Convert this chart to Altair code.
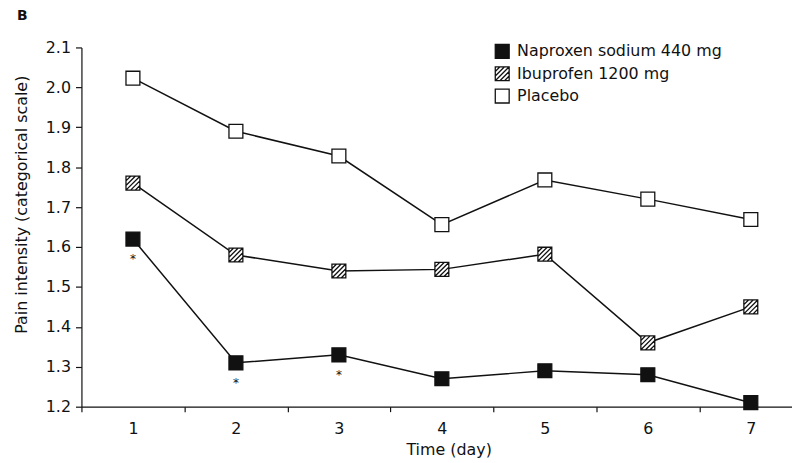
import altair as alt
import pandas as pd

days = [1, 2, 3, 4, 5, 6, 7]
drugs = ["Naproxen sodium 440 mg", "Ibuprofen 1200 mg", "Placebo"]
naproxen = [1.62, 1.31, 1.33, 1.27, 1.29, 1.28, 1.21]
ibuprofen = [1.76, 1.58, 1.54, 1.544, 1.582, 1.36, 1.45]
placebo = [2.023, 1.89, 1.828, 1.656, 1.768, 1.72, 1.669]
sig_days = [1, 2, 3]  # days with asterisk (naproxen)
y_ticks = [1.2, 1.3, 1.4, 1.5, 1.6, 1.7, 1.8, 1.9, 2.0, 2.1]
x_ticks = [0.5, 1, 1.5, 2, 2.5, 3, 3.5, 4, 4.5, 5, 5.5, 6, 6.5, 7]

FONT = "DejaVu Sans"
INK = "#111"

rows = []
for name, vals in zip(drugs, [naproxen, ibuprofen, placebo]):
    for d, v in zip(days, vals):
        rows.append({"day": d, "drug": name, "value": v})
df = pd.DataFrame(rows)
sig = df[(df["drug"] == drugs[0]) & (df["day"].isin(sig_days))].assign(mark="*")

hatch = ("M-1,-1H1V1H-1Z M-1,-0.33L-0.33,-1 M-1,0.33L0.33,-1 M-1,1L1,-1 "
         "M-0.33,1L1,-0.33 M0.33,1L1,0.33")

x_enc = alt.X(
    "day:Q",
    scale=alt.Scale(domain=[0.5, 7.4], nice=False, zero=False),
    axis=alt.Axis(
        values=x_ticks,
        labelExpr="datum.value % 1 === 0 ? format(datum.value, 'd') : ''",
        tickOpacity={"condition": {"test": "datum.value % 1 === 0", "value": 0}, "value": 1},
        tickSize=5, labelPadding=9, labelOverlap=False, labelFlush=False,
        title="Time (day)", titleX=370, titleY=43, titleAlign="center",
        titleBaseline="middle", grid=False,
    ),
)
y_enc = alt.Y(
    "value:Q",
    scale=alt.Scale(domain=[1.2, 2.1], nice=False, zero=False),
    axis=alt.Axis(
        values=y_ticks, format=".1f", tickSize=6, labelPadding=5,
        title="Pain intensity (categorical scale)", titleAngle=270,
        titleX=-60, titleY=158, titleAlign="center", titleBaseline="middle",
        grid=False,
    ),
)

legend = alt.Legend(title=None, labelLimit=0)

lines = alt.Chart(df).mark_line(color=INK, strokeWidth=1.5).encode(
    x=x_enc, y=y_enc, detail="drug:N"
)

points = alt.Chart(df).mark_point(
    filled=True, strokeWidth=1.3, size=196, opacity=1, fillOpacity=1
).encode(
    x=x_enc,
    y=y_enc,
    shape=alt.Shape("drug:N", sort=drugs,
                    scale=alt.Scale(domain=drugs, range=["square", hatch, "square"]),
                    legend=legend),
    fill=alt.Fill("drug:N", sort=drugs,
                  scale=alt.Scale(domain=drugs, range=[INK, "white", "white"]),
                  legend=legend),
    stroke=alt.Stroke("drug:N", sort=drugs,
                      scale=alt.Scale(domain=drugs, range=[INK, INK, INK]),
                      legend=legend),
)

stars = alt.Chart(sig).mark_text(dy=20, fontSize=12, font=FONT, color=INK).encode(
    x=x_enc, y=y_enc, text="mark:N"
)

chart = (
    alt.layer(lines, points, stars)
    .properties(
        width=716,
        height=362,
        autosize=alt.AutoSizeParams(type="none"),
        padding={"left": 74, "top": 38, "right": 0, "bottom": 56},
        title=alt.TitleParams(text="B", anchor="start", frame="group", dx=-65, dy=-13,
                              font=FONT, fontSize=14, fontWeight="bold", color=INK),
    )
    .configure_view(stroke=None)
    .configure_axis(
        domainColor=INK, tickColor=INK, labelColor=INK, titleColor=INK,
        labelFont=FONT, titleFont=FONT, labelFontSize=16, titleFontSize=16,
        titleFontWeight="normal", domainWidth=1.2, tickWidth=1.2,
    )
    .configure_legend(
        orient="none", legendX=416, legendY=-4, padding=0,
        symbolSize=196, symbolStrokeWidth=1.3,
        symbolOpacity=1, labelFont=FONT, labelFontSize=16, labelColor=INK,
        labelOffset=7, rowPadding=2.5, labelLimit=0,
    )
)

chart.save("out.html", embed_options={"renderer": "svg", "actions": False})
